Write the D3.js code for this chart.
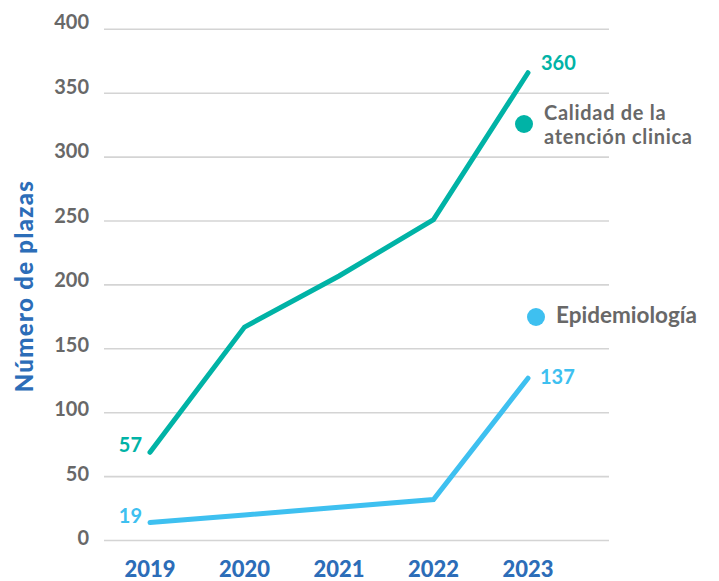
<!DOCTYPE html>
<html><head><meta charset="utf-8">
<script src="https://cdn.jsdelivr.net/npm/d3@7/dist/d3.min.js"></script>
<style>
body{margin:0;background:#fff;}
svg{display:block;font-family:Lato,"Open Sans",sans-serif;}
</style></head><body>
<svg id="chart" width="719" height="581"></svg>
<script>
const years = ["2019","2020","2021","2022","2023"];
const calidad = [69, 167, 207, 251, 366];
const epidemiologia = [14, 20, 26, 32, 127];
const yTicks = [0,50,100,150,200,250,300,350,400];
const calidadLabels = ["57","360"];
const epiLabels = ["19","137"];
const seriesNames = ["Calidad de la|atención clinica","Epidemiología"];
const colors = {teal:"#00b3a6", blue:"#3ec0f0", axisBlue:"#2c6db8", gray:"#686868", grid:"#d4d4d4"};

const svg = d3.select("#chart");
const x = d3.scalePoint().domain(years).range([150,528]);
const y = d3.scaleLinear().domain([0,400]).range([540.5,29.3]);
const yLab = d3.scaleLinear().domain([0,400]).range([538,22]);

// gridlines
svg.append("g").selectAll("line").data(yTicks).join("line")
  .attr("x1",104).attr("x2",609)
  .attr("y1",d=>y(d)).attr("y2",d=>y(d))
  .attr("stroke",colors.grid).attr("stroke-width",1.6);

// y tick labels
svg.append("g").selectAll("text").data(yTicks).join("text")
  .attr("x",89).attr("y",d=>yLab(d)).attr("dy","0.35em")
  .attr("text-anchor","end").attr("font-size",20).attr("font-weight",700)
  .attr("fill",colors.gray).text(d=>d);

// x labels
svg.append("g").selectAll("text").data(years).join("text")
  .attr("x",d=>x(d)).attr("y",577)
  .attr("text-anchor","middle").attr("font-size",22).attr("font-weight",900)
  .attr("fill",colors.axisBlue).text(d=>d);

// y title
svg.append("text").attr("transform","translate(33,286) rotate(-90)")
  .attr("text-anchor","middle").attr("font-size",24).attr("font-weight",900)
  .attr("letter-spacing",1.3)
  .attr("fill",colors.axisBlue).text("Número de plazas");

const line = d3.line().x((d,i)=>x(years[i])).y(d=>y(d));
svg.append("path").datum(calidad).attr("d",line).attr("fill","none")
  .attr("stroke",colors.teal).attr("stroke-width",5).attr("stroke-linecap","round").attr("stroke-linejoin","miter");
svg.append("path").datum(epidemiologia).attr("d",line).attr("fill","none")
  .attr("stroke",colors.blue).attr("stroke-width",5).attr("stroke-linecap","round").attr("stroke-linejoin","miter");

// data labels
function lbl(series, labels, color, offs){
  const idx=[0, years.length-1];
  idx.forEach((ii,k)=>{
    svg.append("text").attr("x",x(years[ii])+offs[k][0]).attr("y",y(series[ii])+offs[k][1])
      .attr("text-anchor",k===0?"end":"start").attr("font-size",20).attr("font-weight",700)
      .attr("fill",color).text(labels[k]);
  });
}
lbl(calidad, calidadLabels, colors.teal, [[-8,0],[13,-3]]);
lbl(epidemiologia, epiLabels, colors.blue, [[-8,0],[12,6]]);

// legend
const leg = [
  {name:seriesNames[0], color:colors.teal, cx:524, cy:124},
  {name:seriesNames[1], color:colors.blue, cx:536, cy:317}
];
leg.forEach(l=>{
  svg.append("circle").attr("cx",l.cx).attr("cy",l.cy).attr("r",9).attr("fill",l.color);
  const parts=l.name.split("|");
  if(parts.length===2){
    svg.append("text").attr("x",l.cx+20).attr("y",l.cy-4).attr("font-size",20).attr("font-weight",700)
      .attr("letter-spacing",0.7).attr("fill",colors.gray).text(parts[0]);
    svg.append("text").attr("x",l.cx+20).attr("y",l.cy+20).attr("font-size",20).attr("font-weight",700)
      .attr("letter-spacing",0.7).attr("fill",colors.gray).text(parts[1]);
  } else {
    svg.append("text").attr("x",l.cx+20).attr("y",l.cy+6).attr("font-size",22.5).attr("font-weight",700)
      .attr("fill",colors.gray).text(parts[0]);
  }
});
</script>
</body></html>
